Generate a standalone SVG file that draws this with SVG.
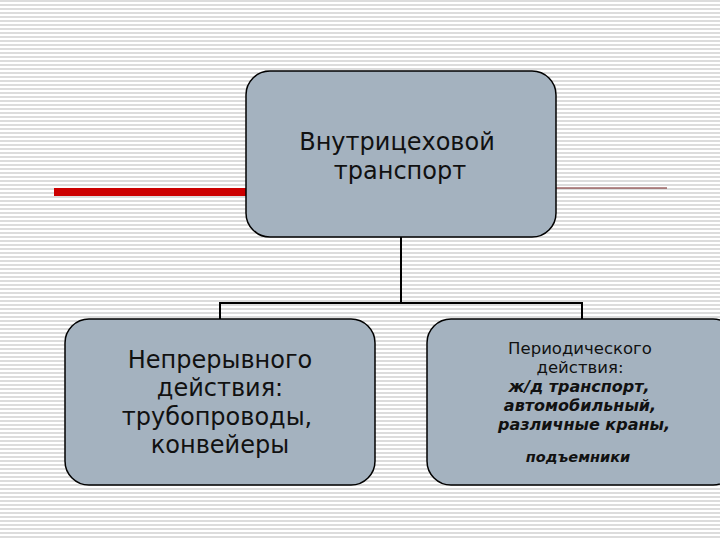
<svg xmlns="http://www.w3.org/2000/svg" width="720" height="540" viewBox="0 0 720 540">
<defs>
<pattern id="bg" x="0" y="0" width="8" height="4" patternUnits="userSpaceOnUse">
<rect x="0" y="0" width="8" height="4" fill="#ffffff"/>
<rect x="0" y="0" width="8" height="2" fill="#dcdcdc"/>
</pattern>
</defs>
<style>
.box{fill:#a4b2bf;stroke:#000;stroke-width:1.5}
.t{font-family:"DejaVu Sans",Verdana,sans-serif;fill:#111;text-anchor:middle}
.big{font-size:24px}
.mid{font-size:16.5px}
.bi{font-size:16px;font-weight:bold;font-style:italic}
.sm{font-size:14.5px;font-weight:bold;font-style:italic}
.conn{fill:none;stroke:#000;stroke-width:2}
</style>
<rect width="720" height="540" fill="url(#bg)"/>
<line x1="54" y1="192" x2="247" y2="192" stroke="#cc0000" stroke-width="8"/>
<line x1="556" y1="188" x2="667" y2="188" stroke="#6e1a1a" stroke-width="1"/>
<g id="connectors">
<path class="conn" d="M401 237 V303 M220 303 H582 M220 302 V319 M582 302 V319"/>
</g>
<g id="top">
<rect class="box" x="246" y="71" width="310" height="166" rx="24" ry="24"/>
<text class="t big" x="397" y="150">Внутрицеховой</text>
<text class="t big" x="400" y="179">транспорт</text>
</g>
<g id="left">
<rect class="box" x="65" y="319" width="310" height="166" rx="24" ry="24"/>
<text class="t big" x="220" y="368">Непрерывного</text>
<text class="t big" x="220" y="396">действия:</text>
<text class="t big" x="217" y="425">трубопроводы,</text>
<text class="t big" x="220" y="453">конвейеры</text>
</g>
<g id="right">
<rect class="box" x="427" y="319" width="310" height="166" rx="24" ry="24"/>
<text class="t mid" x="580" y="354">Периодического</text>
<text class="t mid" x="580" y="373">действия:</text>
<text class="t bi" x="579" y="392">ж/д транспорт,</text>
<text class="t bi" x="580" y="411">автомобильный,</text>
<text class="t bi" x="584" y="430">различные краны,</text>
<text class="t sm" x="578" y="462">подъемники</text>
</g>
</svg>
